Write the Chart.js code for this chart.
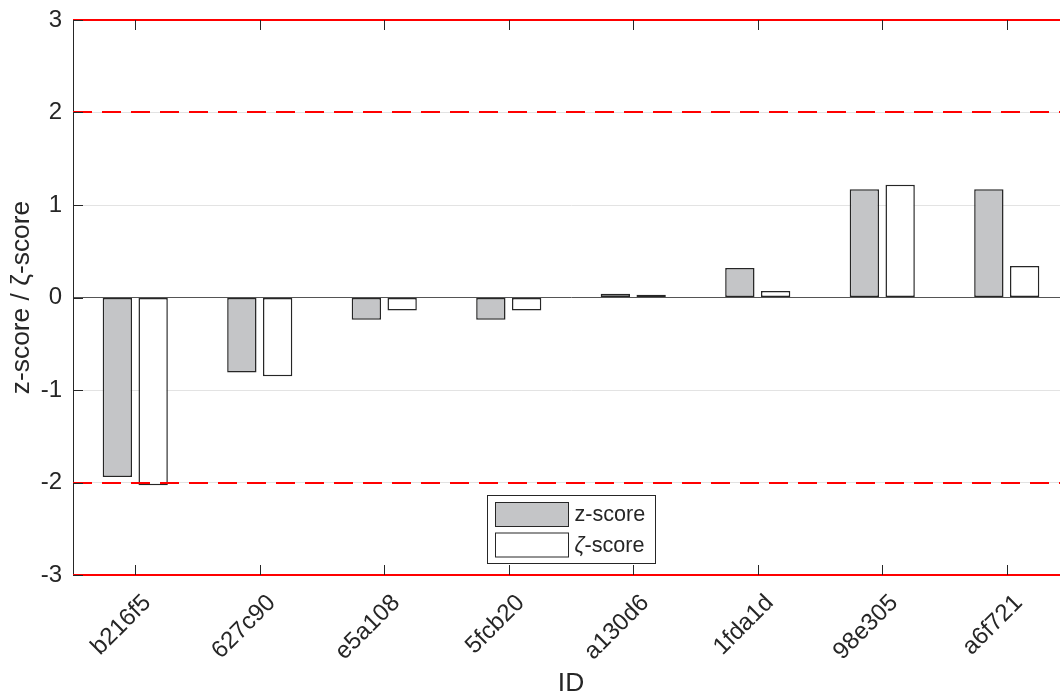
<!DOCTYPE html>
<html>
<head>
<meta charset="utf-8">
<script src="https://cdn.jsdelivr.net/npm/chart.js@4.4.1/dist/chart.umd.min.js"></script>
<style>
    html, body { margin: 0; padding: 0; background: #fff; overflow: hidden; }
    #wrap { position: relative; width: 1076px; height: 697px; }
</style>
</head>
<body>
<div id="wrap"><canvas id="scoreChart"></canvas></div>
<script>
// Chart data
const ids = ['b216f5', '627c90', 'e5a108', '5fcb20', 'a130d6', '1fda1d', '98e305', 'a6f721'];
const zScores = [-1.94, -0.81, -0.24, -0.24, 0.04, 0.32, 1.17, 1.17];
const zetaScores = [-2.03, -0.85, -0.14, -0.14, 0.03, 0.07, 1.22, 0.34];
const yTickValues = [-3, -2, -1, 0, 1, 2, 3];
const limitValues = [3, 2, -2, -3];
const limitDashed = [false, true, true, false];

const FONT = "'Liberation Sans', Arial, Helvetica, sans-serif";
const INK = '#262626';
const TICK_SIZE = 24;
const LABEL_SIZE = 26.4;
const LEGEND_SIZE = 21.6;

// Red reference lines at +-2 (dashed) and +-3 (solid)
const limitLinesPlugin = {
    id: 'limitLines',
    afterDatasetsDraw(chart) {
        const ctx = chart.ctx;
        const area = chart.chartArea;
        const y = chart.scales.y;
        ctx.save();
        ctx.strokeStyle = '#ff0000';
        ctx.lineWidth = 2;
        limitValues.forEach((v, i) => {
            const py = Math.round(y.getPixelForValue(v));
            ctx.setLineDash(limitDashed[i] ? [19, 10] : []);
            ctx.beginPath();
            ctx.moveTo(area.left, py);
            ctx.lineTo(area.right, py);
            ctx.stroke();
        });
        ctx.restore();
    }
};

// MATLAB style inward ticks
const innerTicksPlugin = {
    id: 'innerTicks',
    afterDatasetsDraw(chart) {
        const ctx = chart.ctx;
        const area = chart.chartArea;
        const x = chart.scales.x;
        const y = chart.scales.y;
        const len = 10;
        ctx.save();
        ctx.strokeStyle = INK;
        ctx.lineWidth = 1;
        ctx.beginPath();
        x.ticks.forEach((t, i) => {
            const px = Math.round(x.getPixelForTick(i)) + 0.5;
            ctx.moveTo(px, area.bottom);
            ctx.lineTo(px, area.bottom - len);
            ctx.moveTo(px, area.top);
            ctx.lineTo(px, area.top + len);
        });
        y.ticks.forEach((t, i) => {
            const py = Math.round(y.getPixelForTick(i)) + 0.5;
            ctx.moveTo(area.left, py);
            ctx.lineTo(area.left + len, py);
        });
        ctx.stroke();
        ctx.restore();
    }
};

// Boxed legend inside the plot, near the bottom
const boxLegendPlugin = {
    id: 'boxLegend',
    afterDraw(chart) {
        const ctx = chart.ctx;
        const area = chart.chartArea;
        const w = 168, h = 68;
        const left = Math.round((area.left + area.right) / 2 - w / 2) + 0.5;
        const top = Math.round(area.bottom - 12 - h) + 0.5;
        ctx.save();
        ctx.fillStyle = '#fff';
        ctx.fillRect(left, top, w, h);
        ctx.strokeStyle = INK;
        ctx.lineWidth = 1;
        ctx.strokeRect(left, top, w, h);

        chart.data.datasets.forEach((ds, i) => {
            const sy = top + 7 + i * 30.5;
            ctx.fillStyle = ds.backgroundColor;
            ctx.fillRect(left + 8, sy, 73, 24);
            ctx.strokeStyle = INK;
            ctx.lineWidth = 1;
            ctx.strokeRect(left + 8, sy, 73, 24);

            const ty = sy + 13;
            let tx = left + 87;
            ctx.fillStyle = INK;
            ctx.textBaseline = 'middle';
            ctx.textAlign = 'left';
            const label = ds.label;
            if (label.startsWith('ζ')) {
                ctx.font = 'italic ' + LEGEND_SIZE + 'px ' + FONT;
                ctx.fillText('ζ', tx, ty);
                tx += ctx.measureText('ζ').width;
                ctx.font = LEGEND_SIZE + 'px ' + FONT;
                ctx.fillText(label.slice(1), tx, ty);
            } else {
                ctx.font = LEGEND_SIZE + 'px ' + FONT;
                ctx.fillText(label, tx, ty);
            }
        });
        ctx.restore();
    }
};

document.addEventListener('DOMContentLoaded', () => {
    const ctx = document.getElementById('scoreChart').getContext('2d');
    new Chart(ctx, {
        type: 'bar',
        data: {
            labels: ids,
            datasets: [{
                label: 'z-score',
                data: zScores,
                backgroundColor: '#c4c5c7',
                borderColor: INK,
                borderWidth: 1.5,
                borderSkipped: false
            }, {
                label: 'ζ-score',
                data: zetaScores,
                backgroundColor: '#ffffff',
                borderColor: INK,
                borderWidth: 1.5,
                borderSkipped: false
            }]
        },
        options: {
            responsive: true,
            maintainAspectRatio: false,
            animation: false,
            categoryPercentage: 0.575,
            barPercentage: 0.82,
            layout: {
                padding: { left: 0, right: 7, top: 20, bottom: 0 }
            },
            plugins: {
                legend: { display: false },
                tooltip: { enabled: false }
            },
            scales: {
                x: {
                    grid: { display: false, drawTicks: false },
                    border: { display: false },
                    ticks: {
                        color: INK,
                        font: { family: FONT, size: TICK_SIZE },
                        minRotation: 45,
                        maxRotation: 45,
                        padding: 14,
                        labelOffset: 12
                    },
                    title: {
                        display: true,
                        text: 'ID',
                        color: INK,
                        font: { family: FONT, size: LABEL_SIZE },
                        padding: { top: 0, bottom: -3 }
                    },
                    afterFit(scale) {
                        scale.height = 122;
                    }
                },
                y: {
                    min: -3,
                    max: 3,
                    afterBuildTicks(scale) {
                        scale.ticks = yTickValues.map(v => ({ value: v }));
                    },
                    grid: {
                        drawTicks: false,
                        color: c => (c.tick && c.tick.value === 0) ? '#555555' : '#e3e3e3',
                        lineWidth: 1
                    },
                    border: { display: true, color: INK, width: 1 },
                    ticks: {
                        color: INK,
                        font: { family: FONT, size: TICK_SIZE },
                        padding: 11
                    },
                    title: {
                        display: true,
                        text: 'z-score / ζ-score',
                        color: INK,
                        font: { family: FONT, size: LABEL_SIZE },
                        padding: { top: 6, bottom: 0 }
                    },
                    afterFit(scale) {
                        scale.width = 73;
                        scale.paddingTop = 0;
                        scale.paddingBottom = 0;
                    }
                }
            }
        },
        plugins: [limitLinesPlugin, innerTicksPlugin, boxLegendPlugin]
    });
});
</script>
</body>
</html>
